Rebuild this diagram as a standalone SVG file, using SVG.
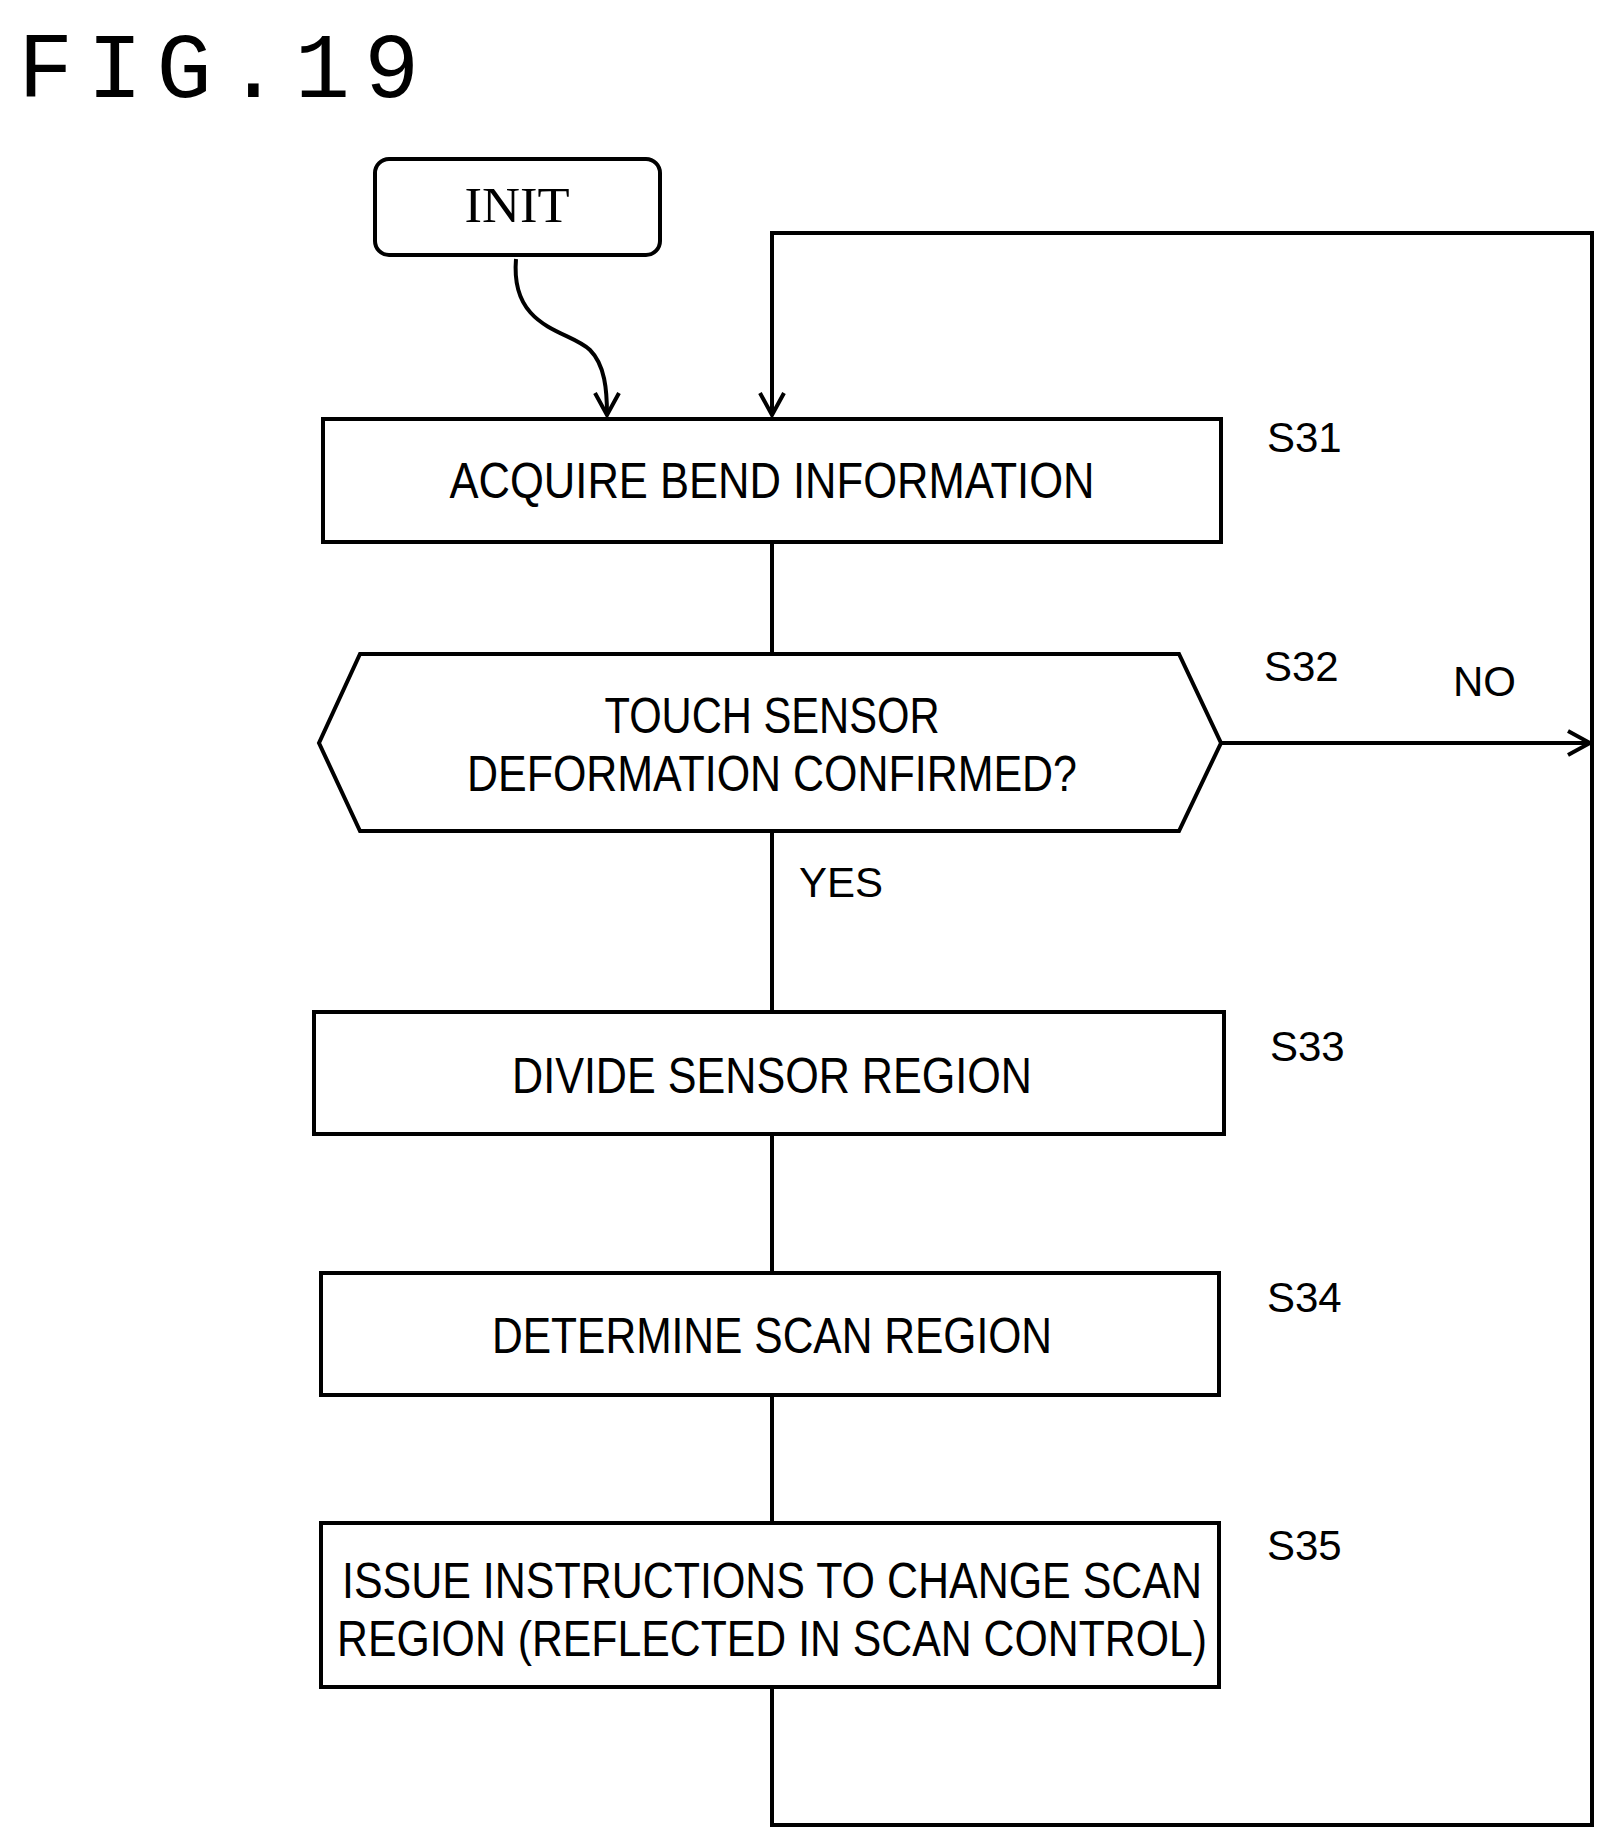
<svg xmlns="http://www.w3.org/2000/svg" width="1615" height="1846" viewBox="0 0 1615 1846">
<style>
.b{fill:#fff;stroke:#000;stroke-width:4}
.t{font-family:"Liberation Sans Narrow","Liberation Sans",sans-serif;font-size:50px;text-anchor:middle}
.s{font-family:"Liberation Sans",sans-serif;font-size:42px}
.c{fill:none;stroke:#000;stroke-width:4}
</style>
<defs><marker id="a" markerWidth="28" markerHeight="28" refX="24" refY="14" orient="auto" markerUnits="userSpaceOnUse"><path d="M2,2 L24,14 L2,26" fill="none" stroke="#000" stroke-width="4"/></marker></defs>
<rect width="1615" height="1846" fill="#fff"/>
<text x="18" y="97" font-family="Liberation Mono,monospace" font-size="92" letter-spacing="14">FIG.19</text>
<g id="connectors">
<path class="c" d="M516,259 C510,330 570,330 590,350 C605,365 607,390 607,415" marker-end="url(#a)"/>
<path class="c" d="M772,542 V654 M772,831 V1012 M772,1134 V1273 M772,1395 V1523 M772,1687 V1825 H1592 V233 H772 V415" marker-end="url(#a)"/>
<path class="c" d="M1221,743 H1590" marker-end="url(#a)"/>
</g>
<g id="init"><rect class="b" x="375" y="159" width="285" height="96" rx="14"/><text x="517" y="222" font-family="Liberation Serif,serif" font-size="50" text-anchor="middle" textLength="105" lengthAdjust="spacingAndGlyphs">INIT</text></g>
<g id="s31"><rect class="b" x="323" y="419" width="898" height="123"/><text class="t" x="772" y="498" textLength="645" lengthAdjust="spacingAndGlyphs">ACQUIRE BEND INFORMATION</text><text class="s" x="1267" y="452">S31</text></g>
<g id="s32"><path class="b" d="M360,654 H1179 L1221,743 L1179,831 H360 L319,743 Z"/><text class="t" x="772" y="733" textLength="335" lengthAdjust="spacingAndGlyphs">TOUCH SENSOR</text><text class="t" x="772" y="791" textLength="610" lengthAdjust="spacingAndGlyphs">DEFORMATION CONFIRMED?</text><text class="s" x="1264" y="681">S32</text><text class="s" x="1453" y="696">NO</text><text class="s" x="799" y="897">YES</text></g>
<g id="s33"><rect class="b" x="314" y="1012" width="910" height="122"/><text class="t" x="772" y="1093" textLength="520" lengthAdjust="spacingAndGlyphs">DIVIDE SENSOR REGION</text><text class="s" x="1270" y="1061">S33</text></g>
<g id="s34"><rect class="b" x="321" y="1273" width="898" height="122"/><text class="t" x="772" y="1353" textLength="560" lengthAdjust="spacingAndGlyphs">DETERMINE SCAN REGION</text><text class="s" x="1267" y="1312">S34</text></g>
<g id="s35"><rect class="b" x="321" y="1523" width="898" height="164"/><text class="t" x="772" y="1598" textLength="860" lengthAdjust="spacingAndGlyphs">ISSUE INSTRUCTIONS TO CHANGE SCAN</text><text class="t" x="772" y="1656" textLength="870" lengthAdjust="spacingAndGlyphs">REGION (REFLECTED IN SCAN CONTROL)</text><text class="s" x="1267" y="1560">S35</text></g>
</svg>
